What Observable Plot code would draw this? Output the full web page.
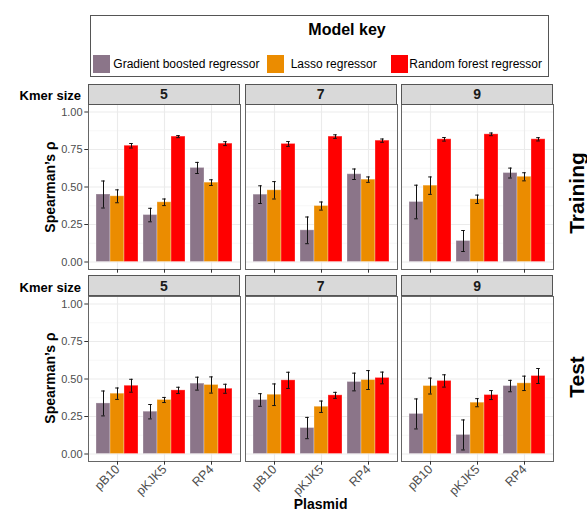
<!DOCTYPE html>
<html><head><meta charset="utf-8">
<script src="https://cdn.jsdelivr.net/npm/d3@7"></script>
<script src="https://cdn.jsdelivr.net/npm/@observablehq/plot@0.6"></script>
<style>
body{margin:0;background:#fff;font-family:"Liberation Sans",Arial,sans-serif;}
#root{position:relative;width:587px;height:512px;overflow:hidden;background:#fff;}
.abs{position:absolute;}
.strip{position:absolute;box-sizing:border-box;background:#d9d9d9;border:1px solid #555;font-weight:bold;font-size:14px;color:#1a1a1a;display:flex;align-items:center;justify-content:center;}
.rot{position:absolute;white-space:nowrap;line-height:1;transform:translate(-50%,-50%) rotate(-90deg);font-weight:bold;color:#000;}
.ctr{position:absolute;white-space:nowrap;line-height:1;transform:translate(-50%,-50%);}
</style></head>
<body><div id="root"></div>
<script>
// ---------- data ----------
const kmers = [5, 7, 9];
const plasmids = ["pB10", "pKJK5", "RP4"];
const models = ["Gradient boosted regressor", "Lasso regressor", "Random forest regressor"];
const colors = ["#8B7589", "#EB8C00", "#FF0000"];
const sets = ["Training", "Test"];
const yTicks = [0, 0.25, 0.5, 0.75, 1];
const yMinor = [0.125, 0.375, 0.625, 0.875];
// value order: kmer 5 (pB10, pKJK5, RP4), kmer 7 (...), kmer 9 (...)
const trainGB       = [0.450, 0.313, 0.627, 0.449, 0.211, 0.585, 0.400, 0.140, 0.593];
const trainGBErr    = [0.090, 0.045, 0.037, 0.059, 0.089, 0.035, 0.112, 0.070, 0.033];
const trainLasso    = [0.438, 0.398, 0.529, 0.478, 0.373, 0.549, 0.509, 0.418, 0.568];
const trainLassoErr = [0.043, 0.022, 0.019, 0.058, 0.027, 0.018, 0.058, 0.028, 0.027];
const trainRF       = [0.775, 0.836, 0.789, 0.787, 0.836, 0.809, 0.818, 0.851, 0.818];
const trainRFErr    = [0.015, 0.007, 0.013, 0.016, 0.012, 0.011, 0.012, 0.009, 0.011];
const testGB        = [0.337, 0.282, 0.469, 0.360, 0.173, 0.480, 0.267, 0.127, 0.453];
const testGBErr     = [0.083, 0.048, 0.043, 0.042, 0.071, 0.059, 0.100, 0.100, 0.038];
const testLasso     = [0.402, 0.360, 0.460, 0.395, 0.315, 0.493, 0.453, 0.342, 0.471];
const testLassoErr  = [0.038, 0.017, 0.054, 0.072, 0.038, 0.063, 0.053, 0.027, 0.048];
const testRF        = [0.455, 0.424, 0.435, 0.491, 0.391, 0.507, 0.487, 0.393, 0.520];
const testRFErr     = [0.043, 0.021, 0.030, 0.054, 0.020, 0.039, 0.041, 0.030, 0.050];

const series = {
  Training: [[trainGB, trainGBErr], [trainLasso, trainLassoErr], [trainRF, trainRFErr]],
  Test: [[testGB, testGBErr], [testLasso, testLassoErr], [testRF, testRFErr]]
};
const rows = [];
for (const set of sets) {
  series[set].forEach(([vals, errs], mi) => {
    vals.forEach((v, i) => {
      rows.push({set, kmer: kmers[Math.floor(i / 3)], plasmid: plasmids[i % 3], model: models[mi],
                 mean: v, lo: v - errs[i], hi: v + errs[i]});
    });
  });
}

// ---------- layout ----------
const root = document.getElementById("root");
const FONT = "Liberation Sans, Arial, sans-serif";
const panelLeft = [88, 244.6, 401.2], panelW = 152, panelH = 165;
const panelTop = {Training: 104.2, Test: 295.8};
const stripH = 20.5;
const yDomain = [-0.05, 1.05];

function place(el, left, top) {
  el.style.position = "absolute";
  el.style.left = left + "px";
  el.style.top = top + "px";
  root.appendChild(el);
}
function addText(cls, text, cx, cy, extra) {
  const d = document.createElement("div");
  d.className = cls;
  d.textContent = text;
  d.style.left = cx + "px"; d.style.top = cy + "px";
  Object.assign(d.style, extra || {});
  root.appendChild(d);
  return d;
}

function bgPlot(set, ci) {
  const isBottom = set === "Test", isLeft = ci === 0;
  const ml = isLeft ? 46 : 0, mb = isBottom ? 40 : 6;
  const marks = [
    Plot.ruleY(yMinor, {stroke: "#f3f3f3", strokeWidth: 0.7}),
    Plot.ruleY(yTicks, {stroke: "#ebebeb", strokeWidth: 1.1}),
    Plot.ruleX(plasmids, {stroke: "#ebebeb", strokeWidth: 1.1}),
    Plot.frame({stroke: "#666", strokeWidth: 1}),
    Plot.axisX({tickSize: 3.7, tickPadding: 2, tickRotate: isBottom ? -45 : 0,
                tickFormat: isBottom ? (d => d) : (() => ""), fontSize: 12.5,
                fill: "#4d4d4d", stroke: "#333", label: null})
  ];
  if (isLeft) marks.push(Plot.axisY(yTicks, {tickSize: 3.7, tickPadding: 2.2, tickFormat: d3.format(".2f"),
                fontSize: 11, fill: "#4d4d4d", stroke: "#333", label: null}));
  const p = Plot.plot({
    width: panelW + ml, height: panelH + mb,
    marginLeft: ml, marginRight: 0, marginTop: 0, marginBottom: mb,
    style: {background: "transparent", overflow: "visible", maxWidth: "none", fontFamily: FONT},
    x: {type: "band", domain: plasmids, paddingInner: 0.1, paddingOuter: 0.15},
    y: isLeft ? {domain: yDomain} : {domain: yDomain, axis: null},
    marks
  });
  place(p, panelLeft[ci] - ml, panelTop[set]);
}

function fgPlot(set, ci) {
  const data = rows.filter(d => d.set === set && d.kmer === kmers[ci]);
  const p = Plot.plot({
    width: panelW, height: panelH, margin: 0,
    style: {background: "transparent", overflow: "visible", maxWidth: "none", fontFamily: FONT},
    fx: {domain: plasmids, paddingInner: 0.1, paddingOuter: 0.15, axis: null, label: null},
    x: {domain: models, padding: 0, axis: null},
    y: {domain: yDomain, axis: null},
    color: {domain: models, range: colors},
    marks: [
      Plot.barY(data, {fx: "plasmid", x: "model", y: "mean", fill: "model", stroke: "white", strokeOpacity: 0.3, strokeWidth: 1}),
      Plot.ruleX(data, {fx: "plasmid", x: "model", y1: "lo", y2: "hi", stroke: "#111", strokeWidth: 1}),
      Plot.tickY(data, {fx: "plasmid", x: "model", y: "lo", stroke: "#111", strokeWidth: 1, inset: 5.2}),
      Plot.tickY(data, {fx: "plasmid", x: "model", y: "hi", stroke: "#111", strokeWidth: 1, inset: 5.2})
    ]
  });
  place(p, panelLeft[ci], panelTop[set]);
}

for (const set of sets) {
  kmers.forEach((k, ci) => {
    bgPlot(set, ci);
    fgPlot(set, ci);
    const s = document.createElement("div");
    s.className = "strip";
    s.textContent = String(k);
    s.style.width = panelW + "px";
    s.style.height = (stripH + 0.5) + "px";
    place(s, panelLeft[ci], panelTop[set] - stripH);
  });
  const top = panelTop[set];
  addText("ctr", "Kmer size", 0, top - stripH / 2 + 1.5,
          {transform: "translate(0,-50%)", width: "81px", textAlign: "right", fontWeight: "bold", fontSize: "13px"});
  addText("rot", "Spearman’s ρ", 50, top + panelH / 2, {fontSize: "14px"});
}
addText("rot", "Training", 576, 193, {fontSize: "21px"});
addText("rot", "Test", 576, 377, {fontSize: "21px"});
addText("ctr", "Plasmid", 320.6, 503.5, {fontWeight: "bold", fontSize: "14px"});

// ---------- legend ----------
const box = document.createElement("div");
Object.assign(box.style, {width: "458.5px", height: "62.6px", boxSizing: "border-box", border: "1px solid #555"});
place(box, 90, 14.7);
addText("ctr", "Model key", 347, 29.5, {fontWeight: "bold", fontSize: "16px"});
const keyX = [92.7, 267, 390.7], textX = [113.3, 290.7, 409.3];
models.forEach((m, i) => {
  const k = document.createElement("div");
  Object.assign(k.style, {width: "17px", height: "17.5px", background: colors[i]});
  place(k, keyX[i], 55.2);
  addText("ctr", m, textX[i], 64, {transform: "translate(0,-50%)", fontSize: "12px", color: "#000"});
});
</script>
</body></html>
